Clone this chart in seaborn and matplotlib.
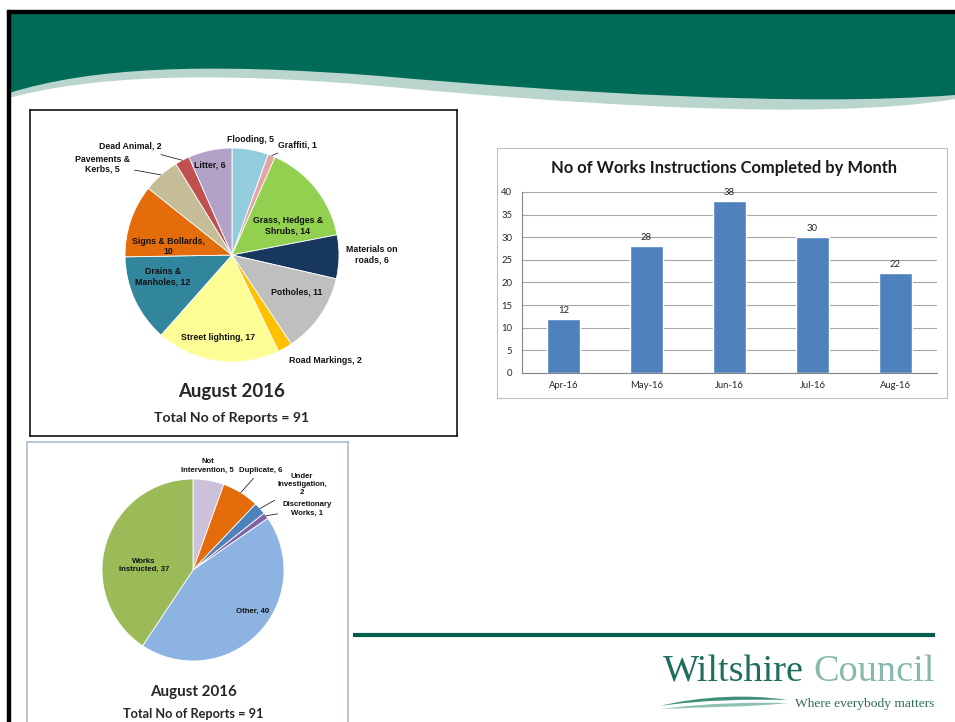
import textwrap

import numpy as np
import pandas as pd
import matplotlib
matplotlib.use("Agg")
import matplotlib.pyplot as plt
from matplotlib.path import Path
from matplotlib.patches import PathPatch, Rectangle
import seaborn as sns

# reports received by type, August 2016
report_types = ["Flooding", "Graffiti", "Grass, Hedges & Shrubs", "Materials on roads",
                "Potholes", "Road Markings", "Street lighting", "Drains & Manholes",
                "Signs & Bollards", "Pavements & Kerbs", "Dead Animal", "Litter"]
report_counts = [5, 1, 14, 6, 11, 2, 17, 12, 10, 5, 2, 6]

# outcome of the reports, August 2016
outcomes = ["Not Intervention", "Duplicate", "Under Investigation",
            "Discretionary Works", "Other", "Works Instructed"]
outcome_counts = [5, 6, 2, 1, 40, 37]

# works instructions completed per month
months = ["Apr-16", "May-16", "Jun-16", "Jul-16", "Aug-16"]
completed = [12, 28, 38, 30, 22]

period = "August 2016"
bar_title = "No of Works Instructions Completed by Month"

# colours
report_colors = ["#93cddd", "#e6a3a3", "#92d050", "#17375e", "#bfbfbf", "#ffc000",
                 "#fdfd96", "#31859c", "#e46c0a", "#c4bd97", "#c0504d", "#b3a2c7"]
outcome_colors = ["#ccc1da", "#e46c0a", "#4f81bd", "#8064a2", "#8db3e2", "#9bbb59"]
bar_color = "#4f81bd"
green = "#006b56"
pale = "#b9d5ce"

# label layout: wrap width, distance from centre (in radii), angle nudge, leader line
rep_wrap = [40, 40, 16, 12, 40, 40, 40, 12, 17, 11, 40, 40]
rep_rad = [1.09, 1.2, 0.59, 1.31, 0.70, 1.32, 0.78, 0.68, 0.6, 1.48, 1.39, 0.87]
rep_nudge = [1, -9, -11, 1, 5, 12, -2, -7, 11, 13.5, 15.4, 2]
rep_lead = [False, True, False, False, False, False, False, False, False, True, True, False]

out_wrap = [15, 40, 14, 13, 40, 14]
out_rad = [1.155, 1.32, 1.52, 1.42, 0.80, 0.54]
out_nudge = [2, -2.5, -4.5, -8.4, 9.5, 11]
out_lead = [False, True, True, True, False, False]

W, H = 955, 722
sns.set_style("white")
plt.rcParams["font.family"] = ["Lato", "DejaVu Sans"]
LABEL_FONT = ["Liberation Sans", "DejaVu Sans"]

fig = plt.figure(figsize=(W / 100, H / 100), dpi=100)


def px_axes(x0, y0, x1, y1):
    return fig.add_axes([x0 / W, 1 - y1 / H, (x1 - x0) / W, (y1 - y0) / H])


def label_pie(ax, wedges, names, counts, wraps, radii, nudges, leaders, size):
    for w, n, c, wr, rr, dn, ld in zip(wedges, names, counts, wraps, radii, nudges, leaders):
        mid = np.deg2rad((w.theta1 + w.theta2) / 2)
        ang = mid + np.deg2rad(dn)
        pos = (rr * np.cos(ang), rr * np.sin(ang))
        txt = textwrap.fill(f"{n}, {c}", wr)
        kw = dict(ha="center", va="center", fontsize=size, fontweight="bold",
                  family=LABEL_FONT, color="#111111")
        if ld:
            ax.annotate(txt, xy=(np.cos(mid), np.sin(mid)), xytext=pos,
                        arrowprops=dict(arrowstyle="-", lw=0.5, color="black",
                                        shrinkA=1, shrinkB=0), **kw)
        else:
            ax.text(pos[0], pos[1], txt, **kw)


def pie_panel(box, centre, r, values, colors, edge):
    x0, y0, x1, y1 = box
    cx, cy = centre
    ax = px_axes(x0, y0, x1, y1)
    wedges, _ = ax.pie(values, colors=colors, startangle=90, counterclock=False,
                       wedgeprops=dict(edgecolor="white", linewidth=0.6))
    ax.set_aspect("auto")
    ax.set_xlim((x0 - cx) / r, (x1 - cx) / r)
    ax.set_ylim((cy - y1) / r, (cy - y0) / r)
    ax.set_frame_on(True)
    for s in ax.spines.values():
        s.set_color(edge)
        s.set_linewidth(1.1)
    return ax, wedges


# ---- background slide ----
bg = px_axes(0, 0, W, H)
bg.set_xlim(0, W)
bg.set_ylim(H, 0)
bg.axis("off")

M, L, C = Path.MOVETO, Path.LINETO, Path.CURVE4
band = Path([(9, 13), (W, 13), (W, 99), (820, 122), (560, 103), (380, 86),
             (210, 71), (90, 76), (9, 98), (9, 13)],
            [M, L, L, C, C, C, C, C, C, L])
bg.add_patch(PathPatch(band, facecolor=pale, edgecolor="none"))
wave = Path([(9, 13), (W, 13), (W, 95), (800, 107), (560, 92), (380, 76),
             (200, 62), (90, 68), (9, 93), (9, 13)],
            [M, L, L, C, C, C, C, C, C, L])
bg.add_patch(PathPatch(wave, facecolor=green, edgecolor="none"))
bg.add_patch(Rectangle((7, 10), W - 7, 3, color="black"))
bg.add_patch(Rectangle((7, 10), 2.5, H - 10, color="black"))

bg.plot([353, 935], [635, 635], color="#005e4b", lw=3, solid_capstyle="butt")
bg.text(663, 681, "Wiltshire", family=["Liberation Serif"], fontsize=27.5,
        color="#1f6e5c", ha="left", va="baseline")
bg.text(935, 681, "Council", family=["Liberation Serif"], fontsize=27.5,
        color="#86b8ab", ha="right", va="baseline")
bg.text(934, 707, "Where everybody matters", family=["Liberation Serif"], fontsize=9.7,
        color="#2b6b5b", ha="right", va="baseline")
swoosh = Path([(660, 706), (700, 696), (750, 694), (787, 700),
               (750, 699), (700, 700), (660, 706)],
              [M, C, C, C, C, C, C])
bg.add_patch(PathPatch(swoosh, facecolor="#3f8f7b", edgecolor="none"))
swoosh2 = Path([(662, 709), (705, 703), (755, 702), (787, 703),
                (755, 707), (705, 707), (662, 709)],
               [M, C, C, C, C, C, C])
bg.add_patch(PathPatch(swoosh2, facecolor="#8fc2b4", edgecolor="none"))

# ---- reports by type ----
cx, cy, r = 232, 255, 107
ax1, w1 = pie_panel((30, 110, 457, 436), (cx, cy), r, report_counts, report_colors, "black")
label_pie(ax1, w1, report_types, report_counts, rep_wrap, rep_rad, rep_nudge, rep_lead, 6.3)
ax1.text(0, (cy - 392) / r, period, ha="center", va="center", fontsize=13.4, fontweight="bold")
ax1.text(0, (cy - 418) / r, f"Total No of Reports = {sum(report_counts)}",
         ha="center", va="center", fontsize=10.1, fontweight="bold")

# ---- outcomes ----
cx, cy, r = 193, 570, 91
ax2, w2 = pie_panel((27, 442, 348, 735), (cx, cy), r, outcome_counts, outcome_colors, "#a5b8c9")
ax2.spines["bottom"].set_visible(False)
label_pie(ax2, w2, outcomes, outcome_counts, out_wrap, out_rad, out_nudge, out_lead, 5.6)
ax2.text(0, (cy - 692) / r, period, ha="center", va="center", fontsize=10.9, fontweight="bold")
ax2.text(0, (cy - 714) / r, f"Total No of Reports = {sum(outcome_counts)}",
         ha="center", va="center", fontsize=9.2, fontweight="bold")

# ---- works instructions bar chart ----
box = px_axes(497, 148, 947, 398)
box.set_xticks([])
box.set_yticks([])
for s in box.spines.values():
    s.set_color("#bfbfbf")
box.text(0.504, 0.92, bar_title, transform=box.transAxes, ha="center", va="center",
         fontsize=11.9, fontweight="bold", color="#1a1a1a")

axb = px_axes(522, 192, 937, 373)
df = pd.DataFrame({"month": months, "completed": completed})
sns.barplot(data=df, x="month", y="completed", color=bar_color, saturation=1,
            width=0.4, ax=axb)
axb.set_ylim(0, 40)
axb.set_yticks(range(0, 41, 5))
axb.set_xlim(-0.5, len(months) - 0.5)
axb.set_xlabel("")
axb.set_ylabel("")
axb.yaxis.grid(True, color="#a6a6a6", lw=0.8)
axb.set_axisbelow(True)
for side in ["top", "right"]:
    axb.spines[side].set_visible(False)
for side in ["left", "bottom"]:
    axb.spines[side].set_color("#868686")
    axb.spines[side].set_linewidth(0.8)
axb.tick_params(axis="y", length=4, color="#868686", labelsize=6.8, pad=3)
axb.tick_params(axis="x", which="major", length=0, labelsize=6.8, pad=6)
axb.set_xticks(np.arange(-0.5, len(months)), minor=True)
axb.tick_params(axis="x", which="minor", length=4, color="#868686")
axb.bar_label(axb.containers[0], fontsize=6.8, padding=3)

fig.savefig("out.png", dpi=100)
